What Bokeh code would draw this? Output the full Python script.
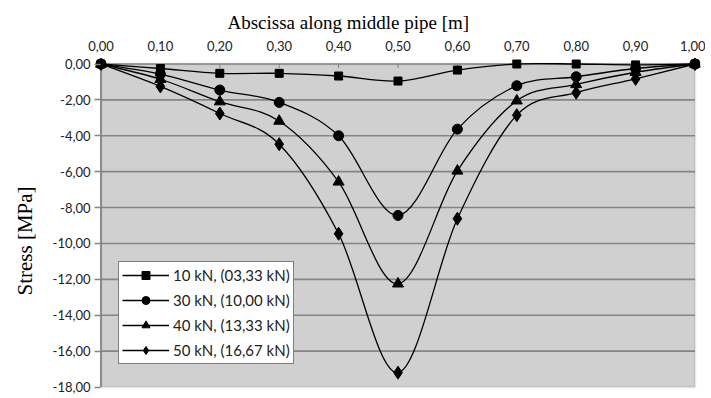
import numpy as np
from bokeh.plotting import figure
from bokeh.models import (Range1d, FixedTicker, BoxAnnotation, Legend, LegendItem,
                          Title)
from bokeh.embed import file_html
from bokeh.resources import INLINE

# ---------------- data ----------------
x_vals = [0.0, 0.1, 0.2, 0.3, 0.4, 0.5, 0.6, 0.7, 0.8, 0.9, 1.0]
s10 = [0.0, -0.25, -0.52, -0.52, -0.67, -0.95, -0.34, 0.0, 0.0, -0.05, 0.0]
s30 = [0.0, -0.56, -1.45, -2.14, -4.00, -8.44, -3.63, -1.21, -0.71, -0.25, 0.0]
s40 = [0.0, -0.85, -2.10, -3.18, -6.57, -12.25, -5.96, -2.05, -1.14, -0.46, 0.0]
s50 = [0.0, -1.25, -2.76, -4.47, -9.46, -17.20, -8.62, -2.85, -1.60, -0.83, 0.0]
series_labels = ["10 kN, (03,33 kN)", "30 kN, (10,00 kN)",
                 "40 kN, (13,33 kN)", "50 kN, (16,67 kN)"]

x_ticks = [0.0, 0.1, 0.2, 0.3, 0.4, 0.5, 0.6, 0.7, 0.8, 0.9, 1.0]
x_tick_labels = ["0,00", "0,10", "0,20", "0,30", "0,40", "0,50",
                 "0,60", "0,70", "0,80", "0,90", "1,00"]
y_ticks = [0, -2, -4, -6, -8, -10, -12, -14, -16, -18]
y_tick_labels = ["0,00", "-2,00", "-4,00", "-6,00", "-8,00", "-10,00",
                 "-12,00", "-14,00", "-16,00", "-18,00"]

x_title = "Abscissa along middle pipe [m]"
y_title = "Stress [MPa]"

# ---------------- figure ----------------
X0, X1 = x_ticks[0], x_ticks[-1]
Y0, Y1 = y_ticks[-1], y_ticks[0]
SX = 593.5 / (X1 - X0)      # px per x unit
SY = 323.0 / (Y1 - Y0)      # px per y unit

p = figure(width=705, height=398,
           x_range=Range1d(X0 - 6.5 / SX, X1 + 5.5 / SX),
           y_range=Range1d(Y0 - 3.5 / SY, Y1 + 5.5 / SY),
           x_axis_location="above",
           output_backend="svg", toolbar_location=None,
           min_border_left=94, min_border_right=5,
           min_border_top=58, min_border_bottom=8)
p.outline_line_color = None
p.background_fill_color = "white"
p.border_fill_color = "white"
p.xgrid.visible = False
p.ygrid.visible = False

# plot area
p.add_layout(BoxAnnotation(left=X0, right=X1, bottom=Y0, top=Y1,
                           fill_color="#d0d0d0", fill_alpha=1.0,
                           line_color="#a6a6a6", line_width=2.5,
                           level="underlay"))

# horizontal gridlines
grid_y = y_ticks[:-1]
p.segment(x0=[X0] * len(grid_y), x1=[X1] * len(grid_y), y0=grid_y, y1=grid_y,
          line_color="#858585", line_width=1.6)
# left axis line along x = 0
p.segment(x0=[X0], x1=[X0], y0=[Y0], y1=[Y1], line_color="#7a7a7a", line_width=1.6)
# small inward ticks under the top edge
p.segment(x0=x_ticks, x1=x_ticks, y0=[Y1] * len(x_ticks),
          y1=[Y1 - 4 / SY] * len(x_ticks), line_color="#808080", line_width=1)

# top axis (tick labels)
xa = p.xaxis[0]
xa.ticker = FixedTicker(ticks=x_ticks)
xa.major_label_overrides = dict(zip(x_ticks, x_tick_labels))
xa.axis_line_color = None
xa.major_tick_line_color = None
xa.minor_tick_line_color = None
xa.major_tick_in = 0
xa.major_tick_out = 0
xa.major_label_standoff = 8
xa.major_label_text_font = "Lato"
xa.major_label_text_font_size = "13px"
xa.major_label_text_color = "#222222"

# left axis (tick labels)
ya = p.yaxis[0]
ya.ticker = FixedTicker(ticks=y_ticks)
ya.major_label_overrides = dict(zip(y_ticks, y_tick_labels))
ya.axis_line_color = None
ya.major_tick_in = 6
ya.major_tick_out = 0
ya.major_tick_line_color = "#858585"
ya.major_tick_line_width = 1.5
ya.minor_tick_line_color = None
ya.major_label_standoff = 4
ya.major_label_text_font = "Lato"
ya.major_label_text_font_size = "13px"
ya.major_label_text_color = "#222222"

# axis titles
p.add_layout(Title(text=x_title, align="left", offset=133, vertical_align="bottom",
                   standoff=10, text_font="Liberation Serif", text_font_size="19px",
                   text_font_style="normal", text_color="black"), "above")
p.add_layout(Title(text=y_title, align="left", offset=95, vertical_align="top",
                   standoff=22, text_font="Liberation Serif", text_font_size="21px",
                   text_font_style="normal", text_color="black"), "left")


def bezier_controls(xs, ys):
    P = np.column_stack([xs, ys]).astype(float)
    n = len(P)
    out = {k: [] for k in ("x0", "y0", "x1", "y1", "cx0", "cy0", "cx1", "cy1")}
    for i in range(n - 1):
        pp = P[max(i - 1, 0)]
        a = P[i]
        b = P[i + 1]
        nn = P[min(i + 2, n - 1)]
        c0 = a + (b - pp) / 6.0
        c1 = b - (nn - a) / 6.0
        out["x0"].append(a[0]); out["y0"].append(a[1])
        out["x1"].append(b[0]); out["y1"].append(b[1])
        out["cx0"].append(c0[0]); out["cy0"].append(c0[1])
        out["cx1"].append(c1[0]); out["cy1"].append(c1[1])
    return out


series = [s10, s30, s40, s50]
markers = [("square", 8), ("circle", 10), ("triangle", 11), ("diamond", 13)]
items = []
for vals, (mk, sz), lab in zip(series, markers, series_labels):
    bz = p.bezier(line_color="black", line_width=1.3, **bezier_controls(x_vals, vals))
    sc = p.scatter(x_vals, vals, marker=mk, size=sz,
                   fill_color="black", line_color="black")
    items.append(LegendItem(label=lab, renderers=[bz, sc]))

legend = Legend(items=items, location=(24, 26), margin=0, padding=3,
                spacing=5, glyph_width=47, glyph_height=20, label_height=20,
                label_standoff=4, label_text_font="Lato",
                label_text_font_size="15px", label_text_color="#222222",
                border_line_color="black", border_line_width=1,
                background_fill_color="white", background_fill_alpha=1.0)
p.add_layout(legend, "center")

open("out.html", "w").write(file_html(p, INLINE))
